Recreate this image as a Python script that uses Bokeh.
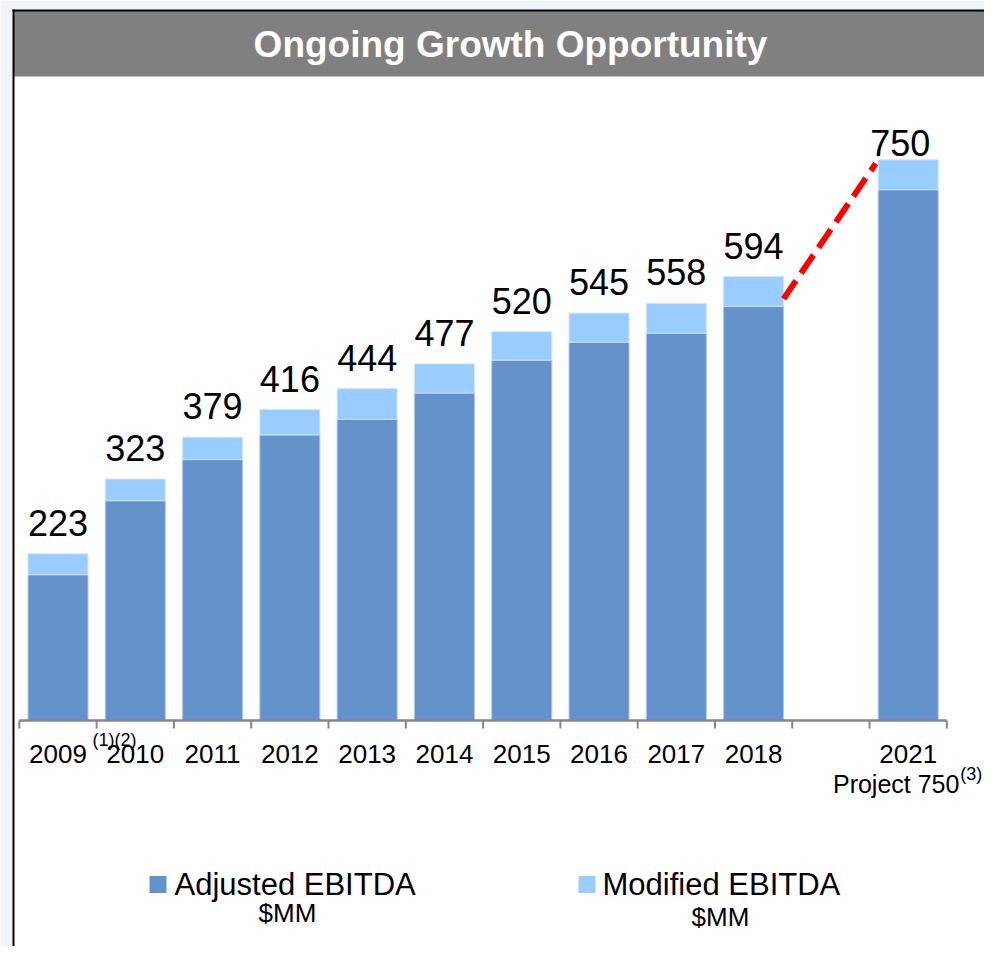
from bokeh.plotting import figure
from bokeh.models import Range1d
from bokeh.core.properties import value
from bokeh.embed import file_html
from bokeh.resources import INLINE

# ---------------- data ----------------
title_text = "Ongoing Growth Opportunity"
categories = ["2009", "2010", "2011", "2012", "2013", "2014", "2015",
              "2016", "2017", "2018", "", "2021"]
adjusted_ebitda = [195, 294, 349, 382, 403, 438, 482, 506, 518, 554, None, 710]
modified_ebitda = [223, 323, 379, 416, 444, 477, 520, 545, 558, 594, None, 750]
sub_labels = ["", "", "", "", "", "", "", "", "", "", "", "Project 750"]
footnotes = ["(1)(2)", "", "", "", "", "", "", "", "", "", "", "(3)"]
series_names = ["Adjusted EBITDA", "Modified EBITDA"]
series_units = ["$MM", "$MM"]
trend_from = "2018"
trend_to = "2021"
trend_values = [564, 745]

# ---------------- layout helpers (pixel -> data) ----------------
FONT = "Liberation Sans"
W, H = 984, 946
PX_X0, PX_DX = 57.5, 77.29      # screen x of first slot centre, slot spacing
PX_Y0, PX_K = 720.0, 0.7476     # screen y of zero, pixels per unit
BASE_FIX = 0.33                 # baseline correction (fraction of font size)


def X(sx):
    return (sx - PX_X0) / PX_DX


def Y(sy):
    return (PX_Y0 - sy) / PX_K


def YB(sy, fs):
    """data y for a text whose alphabetic baseline should sit at screen sy"""
    return Y(sy - BASE_FIX * fs)


DARK = "#6692CC"
LIGHT = "#99CCFF"

p = figure(width=W, height=H,
           x_range=Range1d(X(0), X(W)), y_range=Range1d(Y(H), Y(0)),
           output_backend="svg", toolbar_location=None,
           x_axis_location=None, y_axis_location=None, title=None,
           min_border=0, outline_line_color=None,
           background_fill_color="white", border_fill_color="white")
p.grid.visible = False

# outside-frame tint
p.quad(left=X(0), right=X(12), top=Y(0), bottom=Y(H),
       fill_color="#eef4fa", line_color=None)
p.quad(left=X(0), right=X(W), top=Y(0), bottom=Y(9),
       fill_color="#eef4fa", line_color=None)

# header band
p.quad(left=X(13), right=X(W), top=Y(10), bottom=Y(76),
       fill_color="#808080", line_color=None)
p.segment(x0=[X(13), X(12)], y0=[Y(9), Y(10)], x1=[X(13), X(W)], y1=[Y(H), Y(10)],
          line_color="black", line_width=2)
p.text(x=[X(510)], y=[Y(44)], text=[title_text], text_align="center",
       text_baseline="middle", text_color="white", text_font=value(FONT),
       text_font_style="bold", text_font_size="37px")

# bars
idx = [i for i, v in enumerate(modified_ebitda) if v is not None]
adj = [adjusted_ebitda[i] for i in idx]
mod = [modified_ebitda[i] for i in idx]
BAR_W = 0.776
p.vbar(x=idx, width=BAR_W, bottom=0, top=adj, fill_color=DARK,
       line_color="#a9c5ea", line_width=1)
p.vbar(x=idx, width=BAR_W, bottom=adj, top=mod, fill_color=LIGHT,
       line_color="#cfe5ff", line_width=1)

# trend line
i_from = categories.index(trend_from)
i_to = categories.index(trend_to)
p.line(x=[i_from + BAR_W / 2, i_to - 0.42], y=trend_values,
       line_color="#FF0000", line_width=6, line_dash="22 9")

# value labels
VFS = 36
gap_px = [19] * (len(idx) - 1) + [5]
x_shift = [0] * (len(idx) - 1) + [-8]
p.text(x=[i + s / PX_DX for i, s in zip(idx, x_shift)],
       y=[v + (g + BASE_FIX * VFS) / PX_K for v, g in zip(mod, gap_px)],
       text=[str(v) for v in mod], text_align="center",
       text_baseline="alphabetic", text_color="black",
       text_font=value(FONT), text_font_size=f"{VFS}px")

# category axis
n = len(categories)
p.segment(x0=[-0.5], y0=[0], x1=[n - 0.5], y1=[0],
          line_color="#878787", line_width=2.5)
p.segment(x0=[i - 0.5 for i in range(n + 1)], y0=[0] * (n + 1),
          x1=[i - 0.5 for i in range(n + 1)], y1=[Y(728)] * (n + 1),
          line_color="#878787", line_width=2)
p.text(x=list(range(n)), y=[YB(762, 26)] * n, text=categories,
       text_align="center", text_baseline="alphabetic", text_color="black",
       text_font=value(FONT), text_font_size="26px")
sub_idx = [i for i, s in enumerate(sub_labels) if s]
p.text(x=[i - 12 / PX_DX for i in sub_idx], y=[YB(792, 25)] * len(sub_idx),
       text=[sub_labels[i] for i in sub_idx], text_align="center",
       text_baseline="alphabetic", text_color="black",
       text_font=value(FONT), text_font_size="25px")
fn_idx = [i for i, s in enumerate(footnotes) if s]
fn_dx = {0: 34.5, n - 1: 52.0}
fn_sy = {0: 745, n - 1: 779}
p.text(x=[i + fn_dx[i] / PX_DX for i in fn_idx], y=[YB(fn_sy[i], 18) for i in fn_idx],
       text=[footnotes[i] for i in fn_idx], text_align="left",
       text_baseline="alphabetic", text_color="black",
       text_font=value(FONT), text_font_size="18px")

# legend
leg_sq_x = [X(157.5), X(586.5)]
p.rect(x=leg_sq_x, y=[Y(884)] * 2, width=17, height=17,
       width_units="screen", height_units="screen",
       fill_color=[DARK, LIGHT], line_color=None)
p.text(x=[X(174), X(602)], y=[YB(894, 31)] * 2, text=series_names,
       text_align="left", text_baseline="alphabetic", text_color="black",
       text_font=value(FONT), text_font_size="31px")
p.text(x=[X(287), X(720)], y=[YB(921, 26), YB(925, 26)], text=series_units,
       text_align="center", text_baseline="alphabetic", text_color="black",
       text_font=value(FONT), text_font_size="26px")

open("out.html", "w").write(file_html(p, INLINE))
